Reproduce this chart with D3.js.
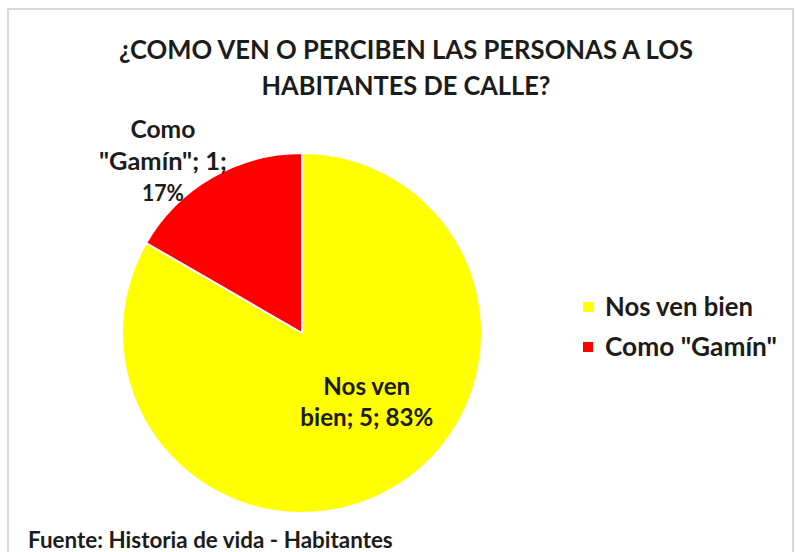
<!DOCTYPE html>
<html>
<head>
<meta charset="utf-8">
<script src="https://cdn.jsdelivr.net/npm/d3@7"></script>
<style>
  html, body { margin: 0; padding: 0; background: #ffffff; }
  svg { display: block; }
  text { font-family: Lato, "Open Sans", sans-serif; font-weight: 700; fill: #1c1c1c; }
</style>
</head>
<body>
<svg id="chart" width="796" height="552"></svg>
<script>
// ---- data ----
const titleLines = ["¿COMO VEN O PERCIBEN LAS PERSONAS A LOS", "HABITANTES DE CALLE?"];
const categories = ["Nos ven bien", "Como \"Gamín\""];
const values = [5, 1];
const percents = ["83%", "17%"];
const labelLines = [["Nos ven", "bien; 5; 83%"], ["Como", "\"Gamín\"; 1;", "17%"]];
const colors = ["#FFFF00", "#FF0000"];
const sourceText = "Fuente: Historia de vida - Habitantes";

// ---- layout ----
const cx = 302, cy = 333, R = 180;
const svg = d3.select("#chart");

svg.append("rect").attr("x", 8).attr("y", 9).attr("width", 785).attr("height", 560)
  .attr("fill", "#fff").attr("stroke", "#d9d9d9").attr("stroke-width", 2);

// condense text horizontally so that it has the reference width at a taller size
function squeeze(sel, target) {
  const w = sel.node().getComputedTextLength();
  if (w > target) sel.attr("textLength", target).attr("lengthAdjust", "spacingAndGlyphs");
  else sel.attr("font-size", +sel.attr("font-size") * target / w);
}

// title
const t1 = svg.append("text").attr("x", 406).attr("y", 59).attr("text-anchor", "middle")
  .attr("font-size", 26).text(titleLines[0]);
squeeze(t1, 574);
const t2 = svg.append("text").attr("x", 406).attr("y", 95).attr("text-anchor", "middle")
  .attr("font-size", 26).text(titleLines[1]);
squeeze(t2, 289);

// pie
const pie = d3.pie().sort(null).value(d => d)(values);
const arc = d3.arc().innerRadius(0).outerRadius(R);
const g = svg.append("g").attr("transform", `translate(${cx},${cy})`);
g.selectAll("path").data(pie).join("path")
  .attr("d", arc)
  .attr("fill", (d, i) => colors[i])
  .attr("stroke", "#ffffff").attr("stroke-width", 2).attr("stroke-linejoin", "round");

// data labels
const labelRadius = [95, 221];
const angleShift = [-13, -9];
const lineH = [31, 32];
const labelFont = 23;
const lineWidths = [[87, 133], [65, 128, 42]];
pie.forEach((d, i) => {
  const a = ((d.startAngle + d.endAngle) / 2) + angleShift[i] * Math.PI / 180;
  const x = cx + Math.sin(a) * labelRadius[i];
  const y = cy - Math.cos(a) * labelRadius[i];
  const lines = labelLines[i];
  const y0 = y - (lines.length - 1) * lineH[i] / 2;
  lines.forEach((ln, j) => {
    const t = svg.append("text").attr("text-anchor", "middle").attr("font-size", labelFont)
      .attr("x", x).attr("y", y0 + j * lineH[i]).attr("dy", "0.35em").text(ln);
    squeeze(t, lineWidths[i][j]);
  });
});

// legend
const legendWidths = [148, 172];
const leg = svg.append("g");
categories.forEach((c, i) => {
  const y = 307 + i * 40;
  leg.append("rect").attr("x", 583).attr("y", y - 5).attr("width", 10).attr("height", 10).attr("fill", colors[i]);
  const t = leg.append("text").attr("x", 605).attr("y", y).attr("dy", "0.35em").attr("font-size", 23).text(c);
  squeeze(t, legendWidths[i]);
});

// source
const s = svg.append("text").attr("x", 28).attr("y", 548).attr("font-size", 20).text(sourceText);
squeeze(s, 365);
</script>
</body>
</html>
